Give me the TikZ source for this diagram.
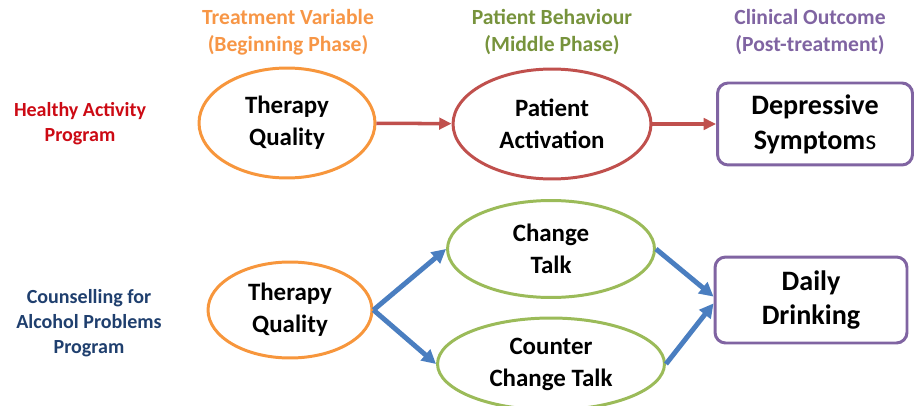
\documentclass[tikz,border=0pt]{standalone}
\usepackage{fontspec}
\setmainfont{Carlito}
\usetikzlibrary{shapes.geometric,arrows.meta}

\definecolor{hdrorange}{HTML}{F79646}
\definecolor{hdrgreen}{HTML}{77933C}
\definecolor{hdrpurple}{HTML}{8064A2}
\definecolor{lblred}{HTML}{CC0A14}
\definecolor{lblblue}{HTML}{1F3F6E}
\definecolor{ellorange}{HTML}{F7963C}
\definecolor{ellred}{HTML}{C0504D}
\definecolor{ellgreen}{HTML}{9BBB59}
\definecolor{arrblue}{HTML}{4A7EC0}

\tikzset{
  header/.style={align=center, font=\bfseries\fontsize{12.3}{15.4}\selectfont},
  rowlabel/.style={align=center, font=\bfseries\fontsize{11.4}{14.2}\selectfont},
  oval/.style={ellipse, draw, fill=white, line width=1.7pt, align=center,
    inner sep=0pt, font=\bfseries\fontsize{14.2}{18.2}\selectfont},
  outcome/.style={rectangle, rounded corners=6pt, draw=hdrpurple, fill=white,
    line width=1.7pt, align=center, inner sep=0pt,
    font=\bfseries\fontsize{16}{19.9}\selectfont},
  redarrow/.style={draw=ellred, line width=2pt,
    -{Triangle[length=7pt,width=6.5pt]}},
  bluearrow/.style={draw=arrblue, line width=2.8pt,
    -{Triangle[length=8pt,width=8pt]}}
}

\begin{document}
\begin{tikzpicture}[x=0.02cm,y=-0.02cm]
  \useasboundingbox (0,0) rectangle (918,405);

  % Marking column headers
  \node [header, text=hdrorange] (hdra) at (288,32) {Treatment Variable\\(Beginning Phase)};
  \node [header, text=hdrgreen] (hdrb) at (552,32) {Patient Behaviour\\(Middle Phase)};
  \node [header, text=hdrpurple] (hdrc) at (810,32) {Clinical Outcome\\(Post-treatment)};

  % Marking row labels
  \node [rowlabel, text=lblred] (hap) at (80,124) {Healthy Activity\\Program};
  \node [rowlabel, text=lblblue] (cap) at (89,323) {Counselling for\\Alcohol Problems\\Program};

  % Drawing upper row
  \node [oval, draw=ellorange, minimum width=3.52cm, minimum height=2.2cm] (tqa) at (287,123) {Therapy\\Quality};
  \node [oval, draw=ellred, minimum width=3.96cm, minimum height=2.2cm] (pact) at (552,124) {Patient\\Activation};
  \node [outcome, minimum width=3.9cm, minimum height=1.64cm] (dep) at (815,124) {Depressive\\Symptom{\mdseries s}};

  % Drawing lower row
  \node [oval, draw=ellorange, minimum width=3.28cm, minimum height=1.92cm] (tqb) at (290,310) {Therapy\\Quality};
  \node [oval, draw=ellgreen, minimum width=4.14cm, minimum height=1.94cm] (ctalk) at (551,249) {Change\\Talk};
  \node [oval, draw=ellgreen, minimum width=4.54cm, minimum height=1.84cm] (cctalk) at (551,364) {Counter\\Change Talk};
  \node [outcome, minimum width=3.84cm, minimum height=1.72cm] (drink) at (811,300) {Daily\\Drinking};

  % Drawing red connectors
  \draw [redarrow] (tqa) -- (pact);
  \draw [redarrow] (pact) -- (dep);

  % Drawing blue connectors
  \draw [bluearrow] (tqb.east) -- (ctalk.west);
  \draw [bluearrow] (tqb.east) -- (cctalk.west);
  \draw [bluearrow] (ctalk.east) -- (drink.178);
  \draw [bluearrow] (cctalk.east) -- (drink.182);
\end{tikzpicture}
\end{document}
